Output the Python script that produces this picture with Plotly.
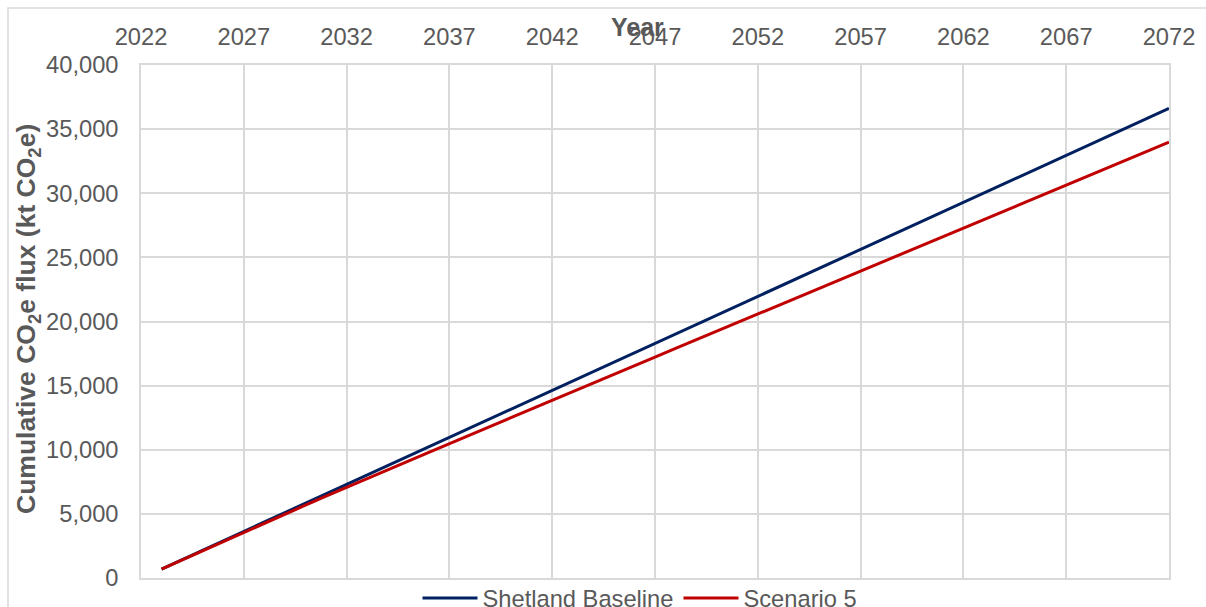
import plotly.graph_objects as go

years = list(range(2023, 2073))

shetland_baseline = [
    700, 1433, 2166, 2899, 3632, 4365, 5098, 5831, 6564, 7297,
    8030, 8763, 9496, 10229, 10962, 11695, 12428, 13161, 13894, 14627,
    15360, 16093, 16826, 17559, 18292, 19025, 19758, 20491, 21224, 21957,
    22690, 23423, 24156, 24889, 25622, 26355, 27088, 27821, 28554, 29287,
    30020, 30753, 31486, 32219, 32952, 33685, 34418, 35151, 35884, 36617,
]

scenario_5 = [
    700, 1420, 2140, 2860, 3580, 4280, 4980, 5680, 6380, 7080,
    7760, 8440, 9120, 9800, 10480, 11160, 11840, 12520, 13200, 13880,
    14550, 15220, 15890, 16560, 17230, 17900, 18570, 19240, 19910, 20580,
    21250, 21920, 22590, 23260, 23930, 24600, 25270, 25940, 26610, 27280,
    27950, 28620, 29290, 29960, 30630, 31300, 31970, 32640, 33310, 33980,
]

x_ticks = list(range(2022, 2073, 5))
y_ticks = list(range(0, 40001, 5000))

FONT = "Liberation Sans, Arial, sans-serif"
GRAY = "#595959"
GRID = "#d9d9d9"

# plot-area geometry (pixels)
L, R, T, B = 141, 1169, 65, 578
PW, PH = R - L, B - T


def px(x):
    return (x - L) / PW


def py(y):
    return (B - y) / PH


fig = go.Figure()
fig.add_trace(go.Scatter(x=years, y=shetland_baseline, mode="lines",
                         name="Shetland Baseline",
                         line=dict(color="#002060", width=3)))
fig.add_trace(go.Scatter(x=years, y=scenario_5, mode="lines",
                         name="Scenario 5",
                         line=dict(color="#C00000", width=3)))

fig.update_layout(
    width=1206, height=607,
    margin=dict(l=L, r=1206 - R, t=T, b=607 - B, autoexpand=False),
    paper_bgcolor="white", plot_bgcolor="white",
    font=dict(family=FONT, size=23.7, color=GRAY),
    showlegend=True,
    legend=dict(orientation="h", x=px(640), xanchor="center",
                yref="container", y=(607 - 598) / 607, yanchor="middle",
                font=dict(size=23.7, color=GRAY),
                itemwidth=55, tracegroupgap=0,
                bgcolor="rgba(0,0,0,0)"),
    xaxis=dict(side="top", range=[2022, 2072], tickvals=x_ticks,
               ticktext=[str(v) for v in x_ticks],
               showgrid=True, gridcolor=GRID, gridwidth=1.5,
               showline=True, linecolor=GRID, linewidth=1.5, mirror=True,
               ticks="", ticklabelstandoff=9, zeroline=False,
               tickfont=dict(size=23.7, color=GRAY)),
    yaxis=dict(range=[0, 40000], tickvals=y_ticks, tickformat=",",
               showgrid=True, gridcolor=GRID, gridwidth=1.5,
               showline=True, linecolor=GRID, linewidth=1.5, mirror=True,
               ticks="", ticklabelstandoff=16, zeroline=False,
               tickfont=dict(size=23.7, color=GRAY)),
    annotations=[
        dict(text="<b>Year</b>", xref="paper", yref="paper",
             x=px(637), y=py(27),
             xanchor="center", yanchor="middle", showarrow=False,
             font=dict(size=25, color=GRAY, family=FONT)),
        dict(text="<b>Cumulative CO<sub>2</sub>e flux (kt CO<sub>2</sub>e)</b>",
             xref="paper", yref="paper",
             x=px(28), y=py(319),
             xanchor="center", yanchor="middle", textangle=-90,
             showarrow=False,
             font=dict(size=26.5, color=GRAY, family=FONT)),
    ],
    shapes=[
        dict(type="rect", xref="paper", yref="paper",
             x0=px(8), x1=px(1230),
             y0=py(630), y1=py(8),
             line=dict(color=GRID, width=1.5), fillcolor="rgba(0,0,0,0)",
             layer="below"),
    ],
)

fig.write_html("out.html", config={"displayModeBar": False},
               post_script="document.body.style.margin='0';")
